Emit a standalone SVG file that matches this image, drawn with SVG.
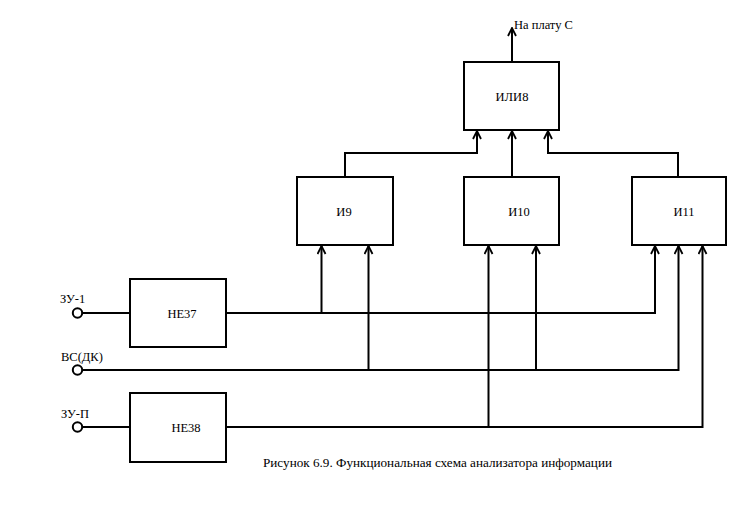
<svg xmlns="http://www.w3.org/2000/svg" width="746" height="505" viewBox="0 0 746 505">
<defs>
<marker id="arr" viewBox="0 0 10 10" refX="9" refY="5" markerWidth="10" markerHeight="10" markerUnits="userSpaceOnUse" orient="auto">
<path d="M1,1 L9,5 L1,9" fill="none" stroke="#000" stroke-width="1.8"/>
</marker>
<style>
.box{fill:#fff;stroke:#000;stroke-width:2}
.ln{fill:none;stroke:#000;stroke-width:2}
.a{fill:none;stroke:#000;stroke-width:2;marker-end:url(#arr)}
text{font-family:'Liberation Serif','Times New Roman',serif;font-size:12.5px;fill:#000}
.c{text-anchor:middle;dominant-baseline:central}
.term{fill:#fff;stroke:#000;stroke-width:2}
</style>
</defs>
<rect width="746" height="505" fill="#fff"/>
<g id="connectors">
<path class="a" d="M512,62 V28"/>
<path class="a" d="M345,177 V153 H477 V131"/>
<path class="a" d="M512,177 V131"/>
<path class="a" d="M678,177 V153 H548 V131"/>
<path class="ln" d="M82,313 H130"/>
<path class="ln" d="M82,370 H130"/>
<path class="ln" d="M82,427 H130"/>
<path class="a" d="M226,313 H655 V246"/>
<path class="a" d="M321.5,313 V246"/>
<path class="a" d="M82,370 H678.5 V246"/>
<path class="a" d="M368.5,370 V246"/>
<path class="a" d="M536,370 V246"/>
<path class="a" d="M226,427 H702.5 V246"/>
<path class="a" d="M488.5,427 V246"/>
</g>
<g id="or8"><rect class="box" x="464" y="62" width="95" height="68"/><text class="c" x="512" y="97">ИЛИ8</text></g>
<g id="and9"><rect class="box" x="297" y="177" width="96" height="68"/><text class="c" x="344" y="212">И9</text></g>
<g id="and10"><rect class="box" x="464" y="177" width="95" height="68"/><text class="c" x="519" y="212">И10</text></g>
<g id="and11"><rect class="box" x="632" y="177" width="94" height="68"/><text class="c" x="684" y="212">И11</text></g>
<g id="not37"><rect class="box" x="130" y="279" width="96" height="68"/><text class="c" x="182" y="314">НЕ37</text></g>
<g id="not38"><rect class="box" x="130" y="393" width="96" height="69"/><text class="c" x="186" y="428">НЕ38</text></g>
<g id="in-zu1"><circle class="term" cx="77.5" cy="313" r="4.7"/><text x="60" y="303">ЗУ-1</text></g>
<g id="in-vs"><circle class="term" cx="77.5" cy="370" r="4.7"/><text x="61" y="361">ВС(ДК)</text></g>
<g id="in-zup"><circle class="term" cx="77.5" cy="427" r="4.7"/><text x="61" y="418">ЗУ-П</text></g>
<g id="out"><text x="514" y="29">На плату С</text></g>
<text x="263" y="467" textLength="349" lengthAdjust="spacingAndGlyphs">Рисунок 6.9. Функциональная схема анализатора информации</text>
</svg>
